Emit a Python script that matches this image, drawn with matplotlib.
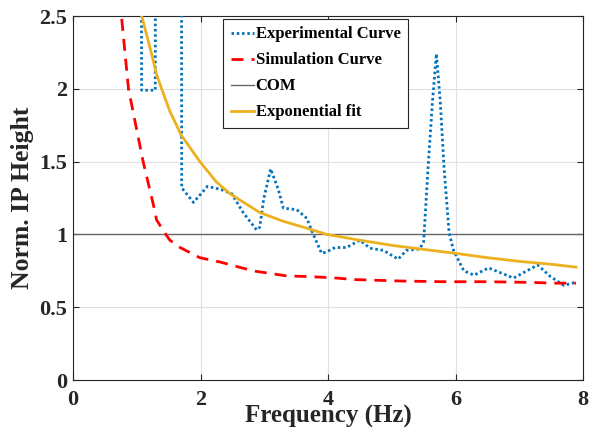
import matplotlib
matplotlib.use("Agg")
import matplotlib.pyplot as plt

plt.rcParams['font.family'] = ['Liberation Serif', 'DejaVu Serif']
plt.rcParams['font.weight'] = 'bold'

# Experimental curve (values above 2.5 are clipped by the axis)
exp_x = [1.06, 1.077, 1.29, 1.30, 1.70, 1.705, 1.89, 2.11, 2.31, 2.49, 2.67, 2.88, 2.93,
         2.99, 3.10, 3.22, 3.30, 3.51, 3.67, 3.74, 3.90, 3.98, 4.11, 4.29, 4.50, 4.66,
         4.87, 5.10, 5.23, 5.44, 5.50, 5.57, 5.64, 5.70, 5.76, 5.82, 5.90, 5.97, 6.13,
         6.29, 6.52, 6.91, 7.29, 7.49, 7.70, 7.88]
exp_y = [5.0, 1.99, 1.99, 5.0, 5.0, 1.32, 1.22, 1.33, 1.31, 1.28, 1.15, 1.03, 1.05,
         1.24, 1.45, 1.31, 1.18, 1.17, 1.11, 1.03, 0.87, 0.88, 0.91, 0.91, 0.96, 0.905,
         0.89, 0.83, 0.89, 0.90, 0.95, 1.46, 1.92, 2.24, 1.92, 1.46, 1.01, 0.89, 0.75,
         0.72, 0.77, 0.70, 0.79, 0.71, 0.65, 0.67]

# Simulation curve
sim_x = [0.70, 0.76, 0.87, 1.10, 1.29, 1.31, 1.44, 1.52, 1.68, 1.99, 2.31, 2.82, 3.35,
         3.72, 4.14, 4.40, 5.13, 5.80, 6.49, 7.22, 7.53, 7.89]
sim_y = [2.9, 2.5, 2.0, 1.5, 1.15, 1.10, 1.01, 0.96, 0.91, 0.84, 0.81, 0.75, 0.715,
         0.71, 0.70, 0.69, 0.68, 0.675, 0.675, 0.67, 0.665, 0.665]

# Exponential fit
fit_x = [1.077, 1.21, 1.31, 1.39, 1.52, 1.70, 1.99, 2.25, 2.46, 2.93, 3.30, 3.61, 3.98,
         4.50, 5.00, 5.44, 6.00, 6.50, 7.00, 7.50, 7.89]
fit_y = [2.50, 2.28, 2.10, 2.00, 1.845, 1.68, 1.50, 1.36, 1.28, 1.15, 1.09, 1.05, 1.00,
         0.96, 0.925, 0.90, 0.87, 0.84, 0.815, 0.795, 0.775]

com_level = 1.0

x_ticks = [0, 2, 4, 6, 8]
y_ticks = [0, 0.5, 1, 1.5, 2, 2.5]
y_tick_labels = ['0', '0.5', '1', '1.5', '2', '2.5']

fig = plt.figure(figsize=(5.96, 4.30), dpi=100)
ax = fig.add_axes([73/596, 1 - 380/430, 510/596, 364/430])

ax.plot(exp_x, exp_y, color=(0, 0.447, 0.741), lw=2.0, linestyle=(0, (0.9, 1.0)),
        label='Experimental Curve', zorder=3)
ax.plot(sim_x, sim_y, color=(1, 0, 0), lw=2.0, linestyle=(0, (4.3, 2.9)),
        label='Simulation Curve', zorder=3)
ax.axhline(com_level, color=(0.4, 0.4, 0.4), lw=1.0, label='COM', zorder=2)
ax.plot(fit_x, fit_y, color=(0.929, 0.694, 0.125), lw=2.0, label='Exponential fit', zorder=4)

ax.set_xlim(0, 8)
ax.set_ylim(0, 2.5)
ax.set_xticks(x_ticks)
ax.set_xticklabels([str(v) for v in x_ticks])
ax.set_yticks(y_ticks)
ax.set_yticklabels(y_tick_labels)
ax.grid(True, color=(0.88, 0.88, 0.88), lw=0.8)
ax.set_axisbelow(True)

for s in ax.spines.values():
    s.set_color((0.15, 0.15, 0.15))
    s.set_linewidth(0.8)
ax.tick_params(direction='in', length=4, width=0.8, top=True, right=True,
               labelsize=16, colors=(0.15, 0.15, 0.15))
ax.tick_params(axis='y', pad=4)
ax.tick_params(axis='x', pad=7.5)
for lab in ax.get_xticklabels() + ax.get_yticklabels():
    lab.set_fontweight('bold')
    lab.set_color((0.15, 0.15, 0.15))

ax.set_xlabel('Frequency (Hz)', fontsize=18, fontweight='bold', labelpad=-4,
              color=(0.15, 0.15, 0.15))
ax.set_ylabel('Norm. IP Height', fontsize=18.5, fontweight='bold',
              color=(0.15, 0.15, 0.15))
ax.yaxis.set_label_coords(-0.077, 0.5)

leg = ax.legend(loc='upper left', bbox_to_anchor=(150/510, 1 - 3/364), fontsize=12,
                handlelength=1.4, handletextpad=0.1, labelspacing=0.6,
                borderpad=0.45, fancybox=False, framealpha=1, borderaxespad=0)
leg.get_frame().set_edgecolor((0.15, 0.15, 0.15))
leg.get_frame().set_linewidth(0.8)
for t in leg.get_texts():
    t.set_fontweight('bold')

fig.savefig('out.png', dpi=100)
